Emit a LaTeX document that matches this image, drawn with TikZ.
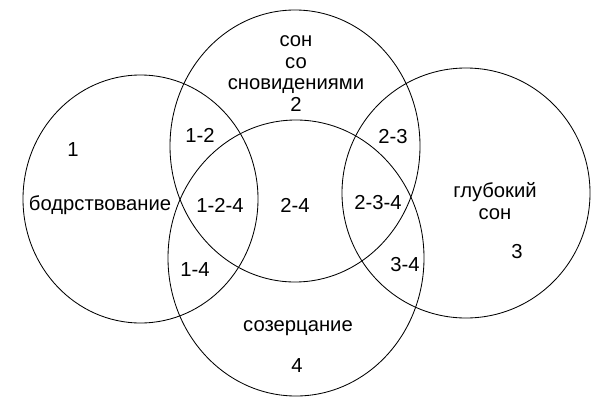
\documentclass[tikz,border=0pt]{standalone}
\usepackage{fontspec}
\setmainfont{Liberation Sans}
\usetikzlibrary{shapes.geometric}
\newcommand{\sphere}[5]{\node [ellipse, draw, line width=0.6pt, inner sep=0pt, outer sep=0pt, minimum width=#4cm, minimum height=#5cm] (#1) at (#2,#3) {};}
\newcommand{\zone}[4]{\node[align=center] (#1) at (#2,#3) {#4};}

\begin{document}
\begin{tikzpicture}[every node/.append style={font=\fontsize{14.4}{15.4}\selectfont}]
    \useasboundingbox (0,0) rectangle (15.25,10.325);
    \sphere{C1}{3.5125}{5.35}{5.875}{6.2}   \sphere{C2}{7.375}{6.675}{6.25}{6.8}
    \sphere{C4}{7.4}{3.875}{6.4}{6.9}       \sphere{C3}{11.65}{5.5}{6.2}{6.25}
    
    \zone{L2}{7.4}{8.4875}{сон\\со\\сновидениями\\2}
    \zone{L1}{1.825}{6.575}{1} \zone{W1}{2.5}{5.2}{бодрствование}
    \zone{L12}{5.0}{6.95}{1-2} \zone{L124}{5.5}{5.2}{1-2-4}
    \zone{L24}{7.375}{5.2}{2-4}
    \zone{L23}{9.825}{6.9}{2-3} \zone{L234}{9.45}{5.25}{2-3-4}
    \zone{W3}{12.375}{5.3}{глубокий\\сон} \zone{L3}{12.925}{4.025}{3}
    \zone{L34}{10.125}{3.7}{3-4} \zone{L14}{4.875}{3.575}{1-4}
    \zone{W4}{7.45}{2.125}{созерцание} \zone{L4}{7.425}{1.175}{4}
\end{tikzpicture}
\end{document}
